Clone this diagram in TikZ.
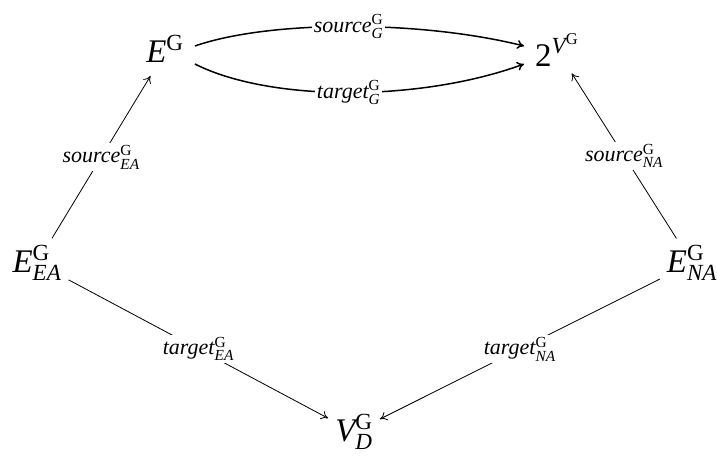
\documentclass[tikz,border=0pt]{standalone}
\usepackage{amsmath}
\usepackage{fontspec}
\setmainfont{Liberation Serif}
\usetikzlibrary{arrows.meta}
\newcommand{\biglab}[3]{$\textit{#1}^{\textrm{#2}}_{\textit{#3}}$}
\newcommand{\edgelab}[3]{$\textit{#1}^{\textrm{#2}}_{\textit{#3}}$}
\begin{document}
\begin{tikzpicture}[x=1pt,y=-1pt,
  obj/.style={font=\fontsize{33}{36}\selectfont, inner sep=7pt},
  lab/.style={font=\fontsize{22}{24}\selectfont, fill=white, inner sep=2pt},
  arr/.style={-{To[length=7pt,width=9pt]}, line width=0.8pt},
  thickarr/.style={-{To[length=7pt,width=9pt]}, line width=1.5pt}]
\useasboundingbox (0,0) rectangle (717,467);
\node[obj] (eg) at (165,52) {\biglab{E}{G}{}};
\node[obj] (tv) at (557,50) {$\textrm{2}^{\textit{V}^{\textrm{G}}}$};
\node[obj] (eea) at (37,263) {\biglab{E}{G}{EA}};
\node[obj] (ena) at (692,263) {\biglab{E}{G}{NA}};
\node[obj] (vd) at (354,432) {\biglab{V}{G}{D}};
\coordinate (eg1) at ([shift={(4,-6)}]eg.east);
\coordinate (eg2) at ([shift={(4,12)}]eg.east);
\coordinate (tv1) at ([shift={(-4,0)}]tv.west|-eg1);
\coordinate (tv2) at ([shift={(-4,0)}]tv.west|-eg2);
\draw[thickarr] (eg1) .. controls (270,20) and (420,20) .. node[lab] {\edgelab{source}{G}{G}} (tv1);
\draw[thickarr] (eg2) .. controls (270,102) and (420,102) .. node[lab] {\edgelab{target}{G}{G}} (tv2);
\draw[arr] (eea) -- node[lab] {\edgelab{source}{G}{EA}} (eg);
\draw[arr] (ena) -- node[lab] {\edgelab{source}{G}{NA}} (tv);
\draw[arr] (eea) -- node[lab] {\edgelab{target}{G}{EA}} (vd);
\draw[arr] (ena) -- node[lab] {\edgelab{target}{G}{NA}} (vd);
\end{tikzpicture}
\end{document}
